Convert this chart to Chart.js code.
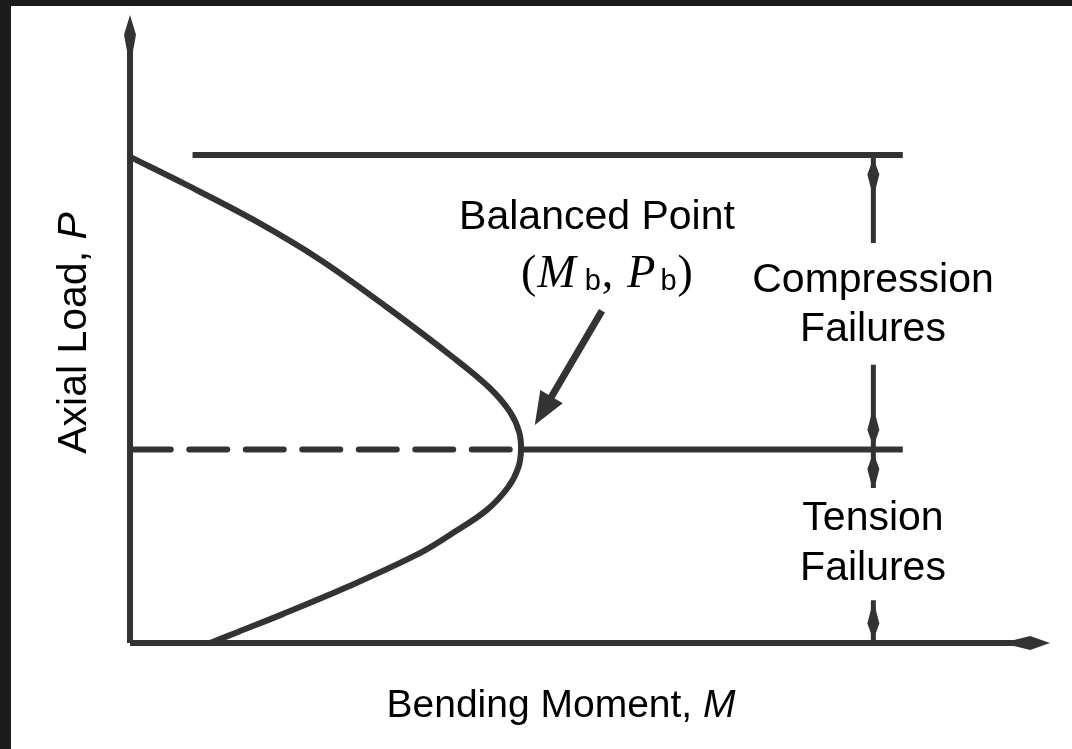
<!DOCTYPE html>
<html>
<head>
<meta charset="utf-8">
<title>Axial load - bending moment interaction</title>
<script src="https://cdn.jsdelivr.net/npm/chart.js@4.4.1/dist/chart.umd.min.js"></script>
<style>
  html, body { margin: 0; padding: 0; background: #171717; }
  #wrap { position: relative; width: 1072px; height: 749px; }
</style>
</head>
<body>
<div id="wrap"><canvas id="pmChart"></canvas></div>
<script>
// interaction curve, M = bending moment, P = axial load
var curveM = [0, 6.2, 13.4, 20.7, 27.9, 35.1, 39.1, 41.3, 42.3, 42.5, 42.2, 41.1, 38.8, 35.3, 31.5, 23.6, 16.6, 11.8, 8.7];
var curveP = [77.4, 72.9, 67.4, 61.0, 53.5, 45.5, 40.6, 36.8, 33.6, 30.8, 27.9, 24.8, 21.2, 17.7, 14.3, 8.9, 4.6, 1.8, 0];

var balancedM = 42.5;
var balancedP = 30.8;
var crushP = 77.7;              // horizontal line at the top
var crushLineM = [6.8, 84.0];
var lineEndM = 84.0;            // right end of the balanced line
var spanM = 80.8;               // the dimension arrows on the right
var compressionGapP = [63.7, 44.3];
var tensionGapP = [24.7, 6.8];
var pointerFrom = [51.3, 52.9];
var pointerTo = [44.0, 34.7];
var axisMaxM = 100;
var axisMaxP = 100;

var ink = '#333333';

function seg(m1, p1, m2, p2, extra) {
    var ds = {
        data: [{ x: m1, y: p1 }, { x: m2, y: p2 }],
        showLine: true,
        borderColor: ink,
        borderWidth: 6,
        pointRadius: 0,
        pointHoverRadius: 0,
        clip: false
    };
    for (var k in extra) ds[k] = extra[k];
    return ds;
}

var curveData = curveM.map(function(m, i) { return { x: m, y: curveP[i] }; });

// shaft of the pointer stops where its head begins
var shaftEnd = [pointerTo[0] + (pointerFrom[0] - pointerTo[0]) * 0.2,
                pointerTo[1] + (pointerFrom[1] - pointerTo[1]) * 0.2];

var datasets = [
    { data: curveData, showLine: true, borderColor: ink, borderWidth: 6, tension: 0.35,
      pointRadius: 0, pointHoverRadius: 0, clip: false, borderJoinStyle: 'round', borderCapStyle: 'round' },
    seg(0, 0, axisMaxM - 3, 0),
    seg(0, 0, 0, axisMaxP - 3),
    seg(crushLineM[0], crushP, crushLineM[1], crushP),
    seg(0.3, balancedP, balancedM, balancedP, { borderDash: [38, 18.5], borderCapStyle: 'round' }),
    seg(balancedM, balancedP, lineEndM, balancedP),
    seg(spanM, crushP, spanM, compressionGapP[0], { borderWidth: 5 }),
    seg(spanM, compressionGapP[1], spanM, balancedP, { borderWidth: 5 }),
    seg(spanM, balancedP, spanM, tensionGapP[0], { borderWidth: 5 }),
    seg(spanM, tensionGapP[1], spanM, 0, { borderWidth: 5 }),
    seg(pointerFrom[0], pointerFrom[1], shaftEnd[0], shaftEnd[1], { borderWidth: 7 })
];

// paper + dark frame
var paperPlugin = {
    id: 'paper',
    beforeDraw: function(chart) {
        var ctx = chart.ctx;
        ctx.save();
        ctx.fillStyle = '#1b1b1b';
        ctx.fillRect(0, 0, chart.width, chart.height);
        ctx.fillStyle = '#ffffff';
        ctx.fillRect(11, 6, chart.width - 11, chart.height - 6);
        ctx.restore();
    }
};

function kite(ctx, tx, ty, dx, dy, len, half, neck) {
    var px = -dy, py = dx;
    ctx.beginPath();
    ctx.moveTo(tx, ty);
    ctx.lineTo(tx - dx * len * 0.55 + px * half, ty - dy * len * 0.55 + py * half);
    ctx.lineTo(tx - dx * len + px * neck, ty - dy * len + py * neck);
    ctx.lineTo(tx - dx * len - px * neck, ty - dy * len - py * neck);
    ctx.lineTo(tx - dx * len * 0.55 - px * half, ty - dy * len * 0.55 - py * half);
    ctx.closePath();
    ctx.fill();
}

var arrowPlugin = {
    id: 'arrows',
    afterDatasetsDraw: function(chart) {
        var ctx = chart.ctx, xs = chart.scales.x, ys = chart.scales.y;
        var X = function(v) { return xs.getPixelForValue(v); };
        var Y = function(v) { return ys.getPixelForValue(v); };
        ctx.save();
        ctx.fillStyle = ink;
        // axis heads
        kite(ctx, X(0), Y(axisMaxP), 0, -1, 36, 6, 3);
        kite(ctx, X(axisMaxM), Y(0), 1, 0, 36, 7, 3);
        // dimension heads
        kite(ctx, X(spanM), Y(crushP) + 3, 0, -1, 30, 6, 2.5);
        kite(ctx, X(spanM), Y(balancedP) - 3, 0, 1, 30, 6, 2.5);
        kite(ctx, X(spanM), Y(balancedP) + 3, 0, -1, 30, 6, 2.5);
        kite(ctx, X(spanM), Y(0) - 3, 0, 1, 30, 6, 2.5);
        // pointer head
        var tx = X(pointerTo[0]), ty = Y(pointerTo[1]);
        var fx = X(pointerFrom[0]), fy = Y(pointerFrom[1]);
        var L = Math.hypot(tx - fx, ty - fy), dx = (tx - fx) / L, dy = (ty - fy) / L;
        var bx = tx - dx * 33, by = ty - dy * 33;
        ctx.beginPath();
        ctx.moveTo(tx, ty);
        ctx.lineTo(bx - dy * 13, by + dx * 13);
        ctx.lineTo(bx + dy * 13, by - dx * 13);
        ctx.closePath();
        ctx.fill();
        ctx.restore();
    }
};

var SANS = '"Liberation Sans", Arial, sans-serif';
var SERIF = '"Liberation Serif", "Times New Roman", serif';

function runs(ctx, parts, cx, y) {
    var total = 0;
    parts.forEach(function(p) { ctx.font = p.font; total += ctx.measureText(p.text).width + (p.gap || 0); });
    var x = cx - total / 2;
    parts.forEach(function(p) {
        ctx.font = p.font;
        ctx.fillText(p.text, x, y + (p.dy || 0));
        x += ctx.measureText(p.text).width + (p.gap || 0);
    });
}

var textPlugin = {
    id: 'labels',
    afterDraw: function(chart) {
        var ctx = chart.ctx;
        var f = '41px ' + SANS, fi = 'italic 41px ' + SANS;
        ctx.save();
        ctx.fillStyle = '#000';
        ctx.textAlign = 'left';
        ctx.textBaseline = 'alphabetic';

        runs(ctx, [{ text: 'Bending Moment, ', font: '39px ' + SANS }, { text: 'M', font: 'italic 39px ' + SANS }], 561, 717);

        ctx.save();
        ctx.translate(86, 333);
        ctx.rotate(-Math.PI / 2);
        runs(ctx, [{ text: 'Axial Load, ', font: f }, { text: 'P', font: fi }], 0, 0);
        ctx.restore();

        runs(ctx, [{ text: 'Balanced Point', font: f }], 597, 229);

        var eq = '46px ' + SERIF, eqi = 'italic 46px ' + SERIF, sub = '29px ' + SANS;
        runs(ctx, [
            { text: '(', font: eq, gap: 1 },
            { text: 'M', font: eqi, gap: 9 },
            { text: 'b', font: sub, dy: 3, gap: 1 },
            { text: ',', font: eq, gap: 14 },
            { text: 'P', font: eqi, gap: 5 },
            { text: 'b', font: sub, dy: 3, gap: 1 },
            { text: ')', font: eq }
        ], 607, 287);

        runs(ctx, [{ text: 'Compression', font: f }], 873, 292);
        runs(ctx, [{ text: 'Failures', font: f }], 873, 341);
        runs(ctx, [{ text: 'Tension', font: f }], 873, 530);
        runs(ctx, [{ text: 'Failures', font: f }], 873, 580);
        ctx.restore();
    }
};

new Chart(document.getElementById('pmChart').getContext('2d'), {
    type: 'scatter',
    data: { datasets: datasets },
    options: {
        responsive: true,
        maintainAspectRatio: false,
        animation: false,
        devicePixelRatio: 1,
        events: [],
        layout: { padding: { left: 130, right: 22, top: 15, bottom: 106 } },
        scales: {
            x: { type: 'linear', min: 0, max: axisMaxM, display: false },
            y: { type: 'linear', min: 0, max: axisMaxP, display: false }
        },
        plugins: { legend: { display: false }, tooltip: { enabled: false } }
    },
    plugins: [paperPlugin, arrowPlugin, textPlugin]
});
</script>
</body>
</html>
